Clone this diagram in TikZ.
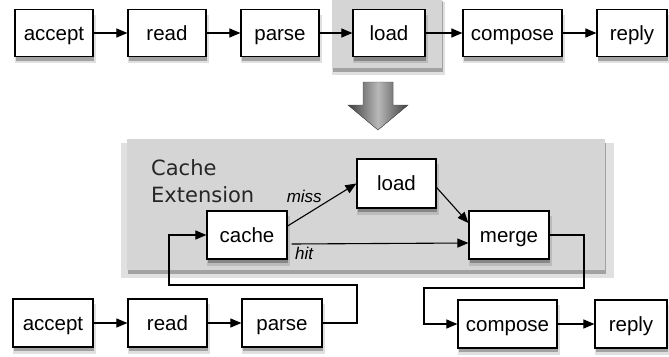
\documentclass[tikz,border=0pt]{standalone}
\usepackage{fontspec}
\setmainfont{Liberation Sans}
\newfontfamily\titlefont{DejaVu Sans}
\usetikzlibrary{arrows.meta, positioning, shadows, calc}
\definecolor{panelgray}{HTML}{D5D5D5}
\definecolor{arrowdark}{HTML}{3E3E3E}
\definecolor{arrowlight}{HTML}{B8B8B8}

\begin{document}
\begin{tikzpicture}[
  x=1pt, y=-1pt,
  soft shadow/.style={
    drop shadow={shadow xshift=1.5pt, shadow yshift=-6pt, opacity=0.12, fill=black, shadow scale=1.03},
    drop shadow={shadow xshift=1pt, shadow yshift=-4pt, opacity=0.28, fill=black}},
  stage/.style={draw, line width=1.2pt, fill=white, minimum height=47pt, inner sep=0pt, text height=17pt, text depth=3pt,
    font=\fontsize{20.5}{24}\selectfont, soft shadow},
  region/.style={fill=panelgray, soft shadow},
  flow/.style={-{Triangle[length=11pt, width=9pt]}, line width=1.1pt},
  tag/.style={font=\fontsize{17}{20}\selectfont\itshape, inner sep=3pt}
]
\useasboundingbox (0,0) rectangle (669,356);

% Highlight and extension panels
\fill[region] (332,-3) rectangle (442,68);
\fill[region] (127,139) rectangle (605,270);

% Original pipeline (top row)
\node[stage, minimum width=78pt] (t1) at (54,33) {accept};
\node[stage, minimum width=78pt] (t2) at (167,33) {read};
\node[stage, minimum width=78pt] (t3) at (280,33) {parse};
\node[stage, minimum width=72pt] (t4) at (389,33) {load};
\node[stage, minimum width=99pt] (t5) at (512.5,33) {compose};
\node[stage, minimum width=70pt] (t6) at (632,33) {reply};

\draw[flow] (t1) -- (t2);
\draw[flow] (t2) -- (t3);
\draw[flow] (t3) -- (t4);
\draw[flow] (t4) -- (t5);
\draw[flow] (t5) -- (t6);

% Transformation arrow
\filldraw[draw=black!70, line width=0.4pt, left color=arrowdark, right color=arrowdark, middle color=arrowlight]
  (348,105) -- (363,105) -- (363,82) -- (393,82) -- (393,105) -- (408,105) -- (378,130) -- cycle;

% Cache extension
\node[anchor=north west, inner sep=0pt, align=left, font=\titlefont\fontsize{21}{27}\selectfont, text=black!85] (title) at (151,159) {Cache\\Extension};

\node[stage, minimum width=80pt, minimum height=48pt] (c1) at (247,235) {cache};
\node[stage, minimum width=79pt, minimum height=49pt] (c2) at (396.5,183.5) {load};
\node[stage, minimum width=80pt, minimum height=48pt] (c3) at (509,235) {merge};

\draw[flow] ([yshift=9pt]c1.east) -- (c2.west) node[tag, pos=0.3, above=7pt, xshift=-4pt] {miss};
\draw[flow] ([xshift=4pt, yshift=-9pt]c1.east) -- ([yshift=-8pt]c3.west) node[tag, pos=0, anchor=north west] {hit};
\draw[flow] ([yshift=-4pt]c2.east) -- ([yshift=12pt]c3.west);

% Extended pipeline (bottom row)
\node[stage, minimum width=80pt, minimum height=48pt] (b1) at (53,323) {accept};
\node[stage, minimum width=79pt, minimum height=48pt] (b2) at (167.5,323) {read};
\node[stage, minimum width=80pt, minimum height=48pt] (b3) at (282,323) {parse};
\node[stage, minimum width=99pt, minimum height=48pt] (b4) at (507.5,324) {compose};
\node[stage, minimum width=72pt, minimum height=48pt] (b5) at (631,324) {reply};

\draw[flow] (b1) -- (b2);
\draw[flow] (b2) -- (b3);
\draw[flow] (b4) -- (b5);

\coordinate (r1) at (357,285);
\coordinate (r2) at (169,285);
\coordinate (r3) at (584,288);
\coordinate (r4) at (424,288);

\draw[flow] (b3.east) -| (r1) -- (r2) |- (c1.west);
\draw[flow] (c3.east) -| (r3) -- (r4) |- (b4.west);

\end{tikzpicture}
\end{document}
